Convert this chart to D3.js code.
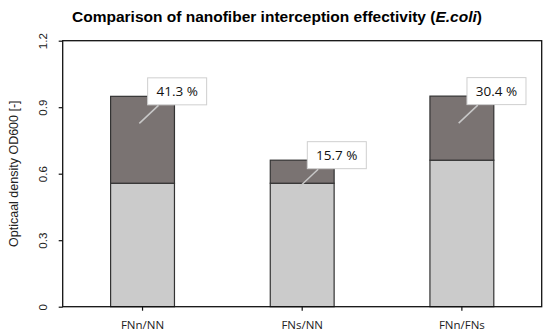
<!DOCTYPE html>
<html>
<head>
<meta charset="utf-8">
<script src="https://cdn.jsdelivr.net/npm/d3@7"></script>
<style>
  body { margin: 0; background: #fff; }
  svg { display: block; }
</style>
</head>
<body>
<div id="chart"></div>
<script>
// chart data
var categories = ["FNn/NN", "FNs/NN", "FNn/FNs"];
var baseValues = [0.557, 0.557, 0.661];      // light grey part
var topValues = [0.392, 0.104, 0.289];       // dark grey part stacked on top
var labels = ["41.3 %", "15.7 %", "30.4 %"];
var yTicks = [0, 0.3, 0.6, 0.9, 1.2];

var width = 550, height = 333;
var margin = { top: 40.7, right: 8.3, bottom: 26.3, left: 62.7 };
var w = width - margin.left - margin.right,
    h = height - margin.top - margin.bottom;

var svg = d3.select("#chart").append("svg")
    .attr("width", width)
    .attr("height", height);

// title
var title = svg.append("text")
    .attr("x", 277)
    .attr("y", 22)
    .attr("text-anchor", "middle")
    .style("font-family", "Liberation Sans, Arial, sans-serif")
    .style("font-weight", "bold")
    .style("font-size", "15.5px")
    .attr("fill", "#000");
title.append("tspan").text("Comparison of nanofiber interception effectivity (");
title.append("tspan").style("font-style", "italic").text("E.coli");
title.append("tspan").text(")");

var g = svg.append("g")
    .attr("transform", "translate(" + margin.left + "," + margin.top + ")");

var x = d3.scaleBand()
    .domain(categories)
    .range([0, w])
    .paddingInner(0.6)
    .paddingOuter(0.3);

var y = d3.scaleLinear()
    .domain([0, 1.2])
    .range([h, 0]);

var rows = categories.map(function(c, i) {
    return { cat: c, base: baseValues[i], top: topValues[i], label: labels[i] };
});

// lower segments
g.selectAll("rect.base").data(rows).enter()
    .append("rect")
    .attr("class", "base")
    .attr("x", function(d) { return x(d.cat); })
    .attr("y", function(d) { return y(d.base); })
    .attr("width", x.bandwidth())
    .attr("height", function(d) { return h - y(d.base); })
    .style("fill", "#cbcbcb")
    .style("stroke", "#333")
    .style("stroke-width", 1.2);

// upper segments
g.selectAll("rect.top").data(rows).enter()
    .append("rect")
    .attr("class", "top")
    .attr("x", function(d) { return x(d.cat); })
    .attr("y", function(d) { return y(d.base + d.top); })
    .attr("width", x.bandwidth())
    .attr("height", function(d) { return y(d.base) - y(d.base + d.top); })
    .style("fill", "#7a7372")
    .style("stroke", "#333")
    .style("stroke-width", 1.2);

// frame
g.append("rect")
    .attr("width", w)
    .attr("height", h)
    .style("fill", "none")
    .style("stroke", "#111")
    .style("stroke-width", 1.3);

// y axis
var yAxis = g.append("g")
    .call(d3.axisLeft(y).tickValues(yTicks).tickSize(4).tickPadding(0)
        .tickFormat(function(d) { return d === 0 ? "0" : d3.format(".1f")(d); }));
yAxis.select(".domain").remove();
yAxis.selectAll("line").style("stroke", "#111").style("stroke-width", 1.2);
yAxis.selectAll("text")
    .attr("x", 0).attr("dy", 0)
    .attr("transform", "translate(-20,0) rotate(-90)")
    .attr("text-anchor", "middle")
    .attr("dominant-baseline", "central")
    .style("font-family", "Liberation Sans, Arial, sans-serif")
    .style("font-size", "11.5px")
    .attr("fill", "#222");

// x axis
var xAxis = g.append("g")
    .attr("transform", "translate(0," + h + ")")
    .call(d3.axisBottom(x).tickSize(4).tickPadding(10));
xAxis.select(".domain").remove();
xAxis.selectAll("line").style("stroke", "#111").style("stroke-width", 1.2);
xAxis.selectAll("text")
    .style("font-family", "Open Sans, Liberation Sans, sans-serif")
    .style("font-size", "11.5px")
    .attr("fill", "#222");

// y axis title
svg.append("text")
    .attr("transform", "translate(14," + (margin.top + h / 2) + ") rotate(-90)")
    .attr("text-anchor", "middle")
    .attr("dominant-baseline", "central")
    .style("font-family", "Liberation Sans, Arial, sans-serif")
    .style("font-size", "12.5px")
    .attr("fill", "#222")
    .text("Opticaal density OD600 [-]");

// percentage callouts
var bw = x.bandwidth();
var callouts = g.selectAll("g.callout").data(rows).enter()
    .append("g")
    .attr("class", "callout");

callouts.append("line")
    .attr("x1", function(d) { return x(d.cat) + bw * 0.45; })
    .attr("y1", function(d) { return y(d.base + d.top) + 27; })
    .attr("x2", function(d) { return x(d.cat) + bw * 0.75; })
    .attr("y2", function(d) { return y(d.base + d.top) + 9; })
    .style("stroke", "#c8c8c8")
    .style("stroke-width", 1.5);

callouts.append("rect")
    .attr("x", function(d) { return x(d.cat) + bw * 0.58; })
    .attr("y", function(d) { return y(d.base + d.top) - 18.5; })
    .attr("width", 59)
    .attr("height", 27)
    .style("fill", "#fff")
    .style("stroke", "#cfcfcf")
    .style("stroke-width", 1);

callouts.append("text")
    .attr("x", function(d) { return x(d.cat) + bw * 0.58 + 29.5; })
    .attr("y", function(d) { return y(d.base + d.top) - 5; })
    .attr("text-anchor", "middle")
    .attr("dominant-baseline", "central")
    .style("font-family", "Open Sans, Liberation Sans, sans-serif")
    .style("font-size", "13.5px")
    .attr("fill", "#111")
    .text(function(d) { return d.label; });
</script>
</body>
</html>
